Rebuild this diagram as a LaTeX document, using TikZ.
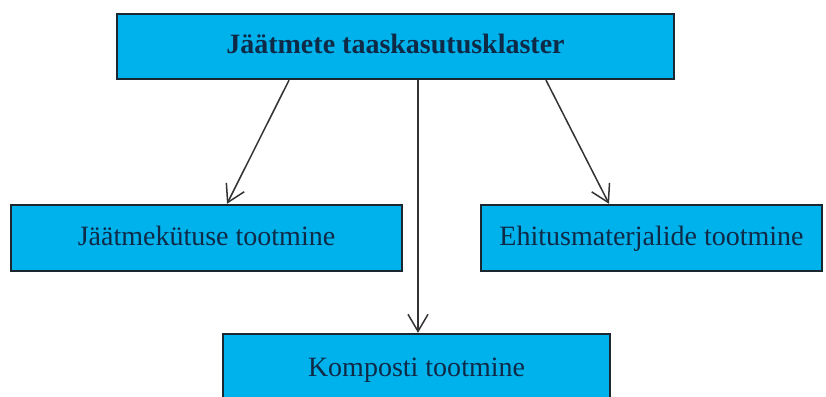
\documentclass[tikz,border=0pt]{standalone}
\usepackage{fontspec}
\setmainfont{Liberation Serif}
\usetikzlibrary{arrows.meta}
\definecolor{boxfill}{RGB}{0,178,236}
\definecolor{boxline}{HTML}{1A2630}
\definecolor{txt}{HTML}{0E2A47}
\definecolor{arr}{HTML}{333333}
\tikzset{
  box/.style={draw=boxline, line width=2.4pt, fill=boxfill, text=txt,
    font=\fontsize{28}{33}\selectfont, inner sep=0pt,
    text height=20pt, text depth=6pt},
  conn/.style={draw=arr, line width=1.5pt,
    -{Straight Barb[length=17pt,width=20pt,line width=1.5pt]}}
}
\begin{document}
\begin{tikzpicture}[x=1pt,y=-1pt]
\useasboundingbox (0,0) rectangle (826,396);
\clip (0,0) rectangle (826,396);
\fill[white] (0,0) rectangle (826,396);
\node[box, minimum width=557pt, minimum height=65pt] (top) at (395.5,46.5) {\bfseries Jäätmete taaskasutusklaster};
\node[box, minimum width=391pt, minimum height=66pt] (left) at (206.5,238) {Jäätmekütuse tootmine};
\node[box, minimum width=341pt, minimum height=66pt] (right) at (651.5,238) {Ehitusmaterjalide tootmine};
\node[box, minimum width=387pt, minimum height=70pt] (bottom) at (416.5,369) {Komposti tootmine};
\draw[conn] ([xshift=-106.5pt]top.south) -- ([xshift=20.5pt]left.north);
\draw[conn] ([xshift=22.5pt]top.south) -- ([xshift=1.5pt]bottom.north);
\draw[conn] ([xshift=150.5pt]top.south) -- ([xshift=-42.5pt]right.north);
\end{tikzpicture}
\end{document}
